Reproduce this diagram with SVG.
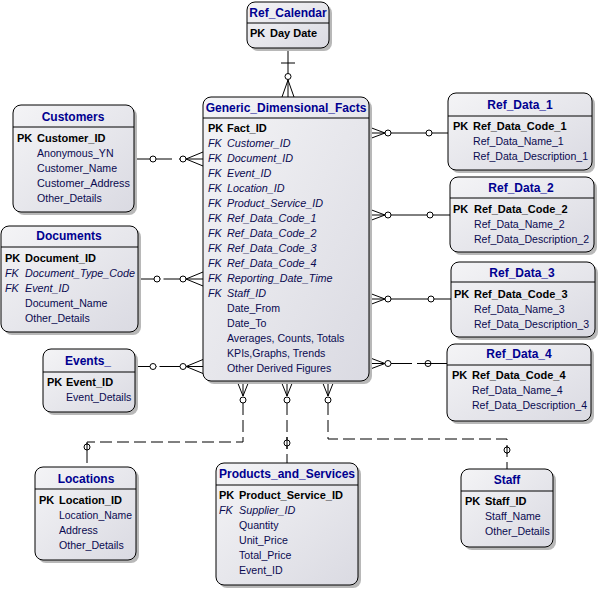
<svg xmlns="http://www.w3.org/2000/svg" width="600" height="591" viewBox="0 0 600 591">
<defs>
<linearGradient id="g" x1="0" y1="0" x2="1" y2="1">
<stop offset="0" stop-color="#f4f4f6"/>
<stop offset="1" stop-color="#dadae2"/>
</linearGradient>
<style>
.sh{fill:#b8b8b8}
.bx{fill:url(#g);stroke:#000;stroke-width:1}
.sp{stroke:#000;stroke-width:1}
.t{font-family:"Liberation Sans",Arial,sans-serif;font-size:12px;font-weight:bold;fill:#000090;text-anchor:middle}
.pk{font-family:"Liberation Sans",Arial,sans-serif;font-size:11px;font-weight:bold;fill:#000}
.fk{font-family:"Liberation Sans",Arial,sans-serif;font-size:10.8px;font-style:italic;fill:#0a0a50}
.f{font-family:"Liberation Sans",Arial,sans-serif;font-size:10.6px;fill:#0a0a50}
.ln{stroke:#000;stroke-width:1;fill:none}
.ds{stroke:#000;stroke-width:1;fill:none;stroke-dasharray:12 5}
.c{fill:#fff;stroke:#000;stroke-width:1}
</style>
</defs>
<rect width="600" height="591" fill="#fff"/>

<g id="connectors">
<!-- Ref_Calendar -->
<path class="ln" d="M288 48V80M281 63H295M288 80L282 97M288 80V97M288 80L294 97"/>
<circle class="c" cx="288" cy="76.5" r="3"/>
<!-- Customers -->
<path class="ln" d="M134 159H172M179 159H186M186 159L203 152M186 159H203M186 159L203 166"/>
<circle class="c" cx="153" cy="159" r="3"/>
<circle class="c" cx="183" cy="159" r="3"/>
<!-- Documents -->
<path class="ln" d="M138 279H160.5M163.5 279H186M186 279L203 272M186 279H203M186 279L203 286"/>
<circle class="c" cx="157" cy="279" r="3"/>
<circle class="c" cx="183" cy="279" r="3"/>
<!-- Events -->
<path class="ln" d="M135 366.5H156.5M159.5 366.5H186M186 366.5L203 359.5M186 366.5H203M186 366.5L203 373.5"/>
<circle class="c" cx="153" cy="366.5" r="3"/>
<circle class="c" cx="183" cy="366.5" r="3"/>
<!-- Ref_Data_1 -->
<path class="ln" d="M369 127L385 133M369 133H385M369 139L385 133M391 133H448"/>
<circle class="c" cx="388" cy="133" r="3"/>
<circle class="c" cx="429" cy="133" r="3"/>
<!-- Ref_Data_2 -->
<path class="ln" d="M369 209L385 215M369 215H385M369 221L385 215M391 215H450"/>
<circle class="c" cx="388" cy="215" r="3"/>
<circle class="c" cx="430" cy="215" r="3"/>
<!-- Ref_Data_3 -->
<path class="ln" d="M369 293L385 299M369 299H385M369 305L385 299M391 299H451"/>
<circle class="c" cx="388" cy="299" r="3"/>
<circle class="c" cx="431" cy="299" r="3"/>
<!-- Ref_Data_4 -->
<path class="ln" d="M369 357.5L385 363.5M369 363.5H385M369 369.5L385 363.5M391 363.5H412"/>
<circle class="c" cx="388" cy="363.5" r="3"/>
<circle class="c" cx="428" cy="363.5" r="3"/>
<path class="ln" d="M417 363.5H447"/>
<!-- Locations -->
<path class="ln" d="M237 381L243 396M243 381V396M249 381L243 396"/>
<circle class="c" cx="243" cy="400" r="3"/>
<path class="ds" d="M243 403V442H87V467"/>
<circle class="c" cx="87" cy="447" r="3"/>
<path class="ln" d="M87 443V451"/>
<!-- Products_and_Services -->
<path class="ln" d="M281 381L287 396M287 381V396M293 381L287 396"/>
<circle class="c" cx="287" cy="400" r="3"/>
<path class="ds" d="M287 403V463"/>
<circle class="c" cx="287" cy="443" r="3"/>
<path class="ln" d="M287 437V449"/>
<!-- Staff -->
<path class="ln" d="M322 381L328 396M328 381V396M334 381L328 396"/>
<circle class="c" cx="328" cy="400" r="3"/>
<path class="ds" d="M328 403V439H507V469"/>
<circle class="c" cx="507" cy="450" r="3"/>
<path class="ln" d="M507 446V454"/>
</g>

<g id="Ref_Calendar">
<rect class="sh" x="250" y="5" width="82" height="46" rx="8"/>
<rect class="bx" x="247" y="2" width="82" height="46" rx="8"/>
<line class="sp" x1="247" y1="23" x2="329" y2="23"/>
<text class="t" x="288" y="17">Ref_Calendar</text>
<text class="pk" x="250" y="37">PK</text><text class="pk" x="270" y="37">Day Date</text>
</g>

<g id="Generic_Dimensional_Facts">
<rect class="sh" x="206" y="100" width="166" height="284" rx="8"/>
<rect class="bx" x="203" y="97" width="166" height="284" rx="8"/>
<line class="sp" x1="203" y1="118" x2="369" y2="118"/>
<text class="t" x="286" y="112">Generic_Dimensional_Facts</text>
<text class="pk" x="208" y="132">PK</text><text class="pk" x="227" y="132">Fact_ID</text>
<text class="fk" x="208" y="147">FK</text><text class="fk" x="227" y="147">Customer_ID</text>
<text class="fk" x="208" y="162">FK</text><text class="fk" x="227" y="162">Document_ID</text>
<text class="fk" x="208" y="177">FK</text><text class="fk" x="227" y="177">Event_ID</text>
<text class="fk" x="208" y="192">FK</text><text class="fk" x="227" y="192">Location_ID</text>
<text class="fk" x="208" y="207">FK</text><text class="fk" x="227" y="207">Product_Service_ID</text>
<text class="fk" x="208" y="222">FK</text><text class="fk" x="227" y="222">Ref_Data_Code_1</text>
<text class="fk" x="208" y="237">FK</text><text class="fk" x="227" y="237">Ref_Data_Code_2</text>
<text class="fk" x="208" y="252">FK</text><text class="fk" x="227" y="252">Ref_Data_Code_3</text>
<text class="fk" x="208" y="267">FK</text><text class="fk" x="227" y="267">Ref_Data_Code_4</text>
<text class="fk" x="208" y="282">FK</text><text class="fk" x="227" y="282">Reporting_Date_Time</text>
<text class="fk" x="208" y="297">FK</text><text class="fk" x="227" y="297">Staff_ID</text>
<text class="f" x="227" y="312">Date_From</text>
<text class="f" x="227" y="327">Date_To</text>
<text class="f" x="227" y="342">Averages, Counts, Totals</text>
<text class="f" x="227" y="357">KPIs,Graphs, Trends</text>
<text class="f" x="227" y="372">Other Derived Figures</text>
</g>

<g id="Customers">
<rect class="sh" x="16" y="108" width="121" height="107" rx="8"/>
<rect class="bx" x="13" y="105" width="121" height="107" rx="8"/>
<line class="sp" x1="13" y1="127" x2="134" y2="127"/>
<text class="t" x="73" y="121">Customers</text>
<text class="pk" x="17" y="142">PK</text><text class="pk" x="37" y="142">Customer_ID</text>
<text class="f" x="37" y="157">Anonymous_YN</text>
<text class="f" x="37" y="172">Customer_Name</text>
<text class="f" x="37" y="187" textLength="93" lengthAdjust="spacingAndGlyphs">Customer_Address</text>
<text class="f" x="37" y="202">Other_Details</text>
</g>

<g id="Documents">
<rect class="sh" x="4" y="229" width="137" height="106" rx="8"/>
<rect class="bx" x="1" y="226" width="137" height="106" rx="8"/>
<line class="sp" x1="1" y1="247" x2="138" y2="247"/>
<text class="t" x="69" y="240">Documents</text>
<text class="pk" x="5" y="262">PK</text><text class="pk" x="25" y="262">Document_ID</text>
<text class="fk" x="5" y="277">FK</text><text class="fk" x="25" y="277" textLength="110" lengthAdjust="spacingAndGlyphs">Document_Type_Code</text>
<text class="fk" x="5" y="292">FK</text><text class="fk" x="25" y="292">Event_ID</text>
<text class="f" x="25" y="307">Document_Name</text>
<text class="f" x="25" y="322">Other_Details</text>
</g>

<g id="Events_">
<rect class="sh" x="46" y="352" width="92" height="63" rx="8"/>
<rect class="bx" x="43" y="349" width="92" height="63" rx="8"/>
<line class="sp" x1="43" y1="372" x2="135" y2="372"/>
<text class="t" x="88" y="365">Events_</text>
<text class="pk" x="47" y="386">PK</text><text class="pk" x="66" y="386">Event_ID</text>
<text class="f" x="66" y="401">Event_Details</text>
</g>

<g id="Locations">
<rect class="sh" x="38" y="470" width="101" height="93" rx="8"/>
<rect class="bx" x="35" y="467" width="101" height="93" rx="8"/>
<line class="sp" x1="35" y1="489" x2="136" y2="489"/>
<text class="t" x="86" y="483">Locations</text>
<text class="pk" x="39" y="504">PK</text><text class="pk" x="59" y="504">Location_ID</text>
<text class="f" x="59" y="519" textLength="73" lengthAdjust="spacingAndGlyphs">Location_Name</text>
<text class="f" x="59" y="534">Address</text>
<text class="f" x="59" y="549">Other_Details</text>
</g>

<g id="Products_and_Services">
<rect class="sh" x="219" y="466" width="142" height="122" rx="8"/>
<rect class="bx" x="216" y="463" width="142" height="122" rx="8"/>
<line class="sp" x1="216" y1="485" x2="358" y2="485"/>
<text class="t" x="287" y="478">Products_and_Services</text>
<text class="pk" x="219" y="499">PK</text><text class="pk" x="239" y="499">Product_Service_ID</text>
<text class="fk" x="219" y="514">FK</text><text class="fk" x="239" y="514">Supplier_ID</text>
<text class="f" x="239" y="529">Quantity</text>
<text class="f" x="239" y="544">Unit_Price</text>
<text class="f" x="239" y="559">Total_Price</text>
<text class="f" x="239" y="574">Event_ID</text>
</g>

<g id="Staff">
<rect class="sh" x="464" y="472" width="92" height="78" rx="8"/>
<rect class="bx" x="461" y="469" width="92" height="78" rx="8"/>
<line class="sp" x1="461" y1="491" x2="553" y2="491"/>
<text class="t" x="507" y="484">Staff</text>
<text class="pk" x="465" y="505">PK</text><text class="pk" x="485" y="505">Staff_ID</text>
<text class="f" x="485" y="520">Staff_Name</text>
<text class="f" x="485" y="535">Other_Details</text>
</g>

<g id="Ref_Data_1">
<rect class="sh" x="451" y="96" width="144" height="77" rx="8"/>
<rect class="bx" x="448" y="93" width="144" height="77" rx="8"/>
<line class="sp" x1="448" y1="116" x2="592" y2="116"/>
<text class="t" x="520" y="109">Ref_Data_1</text>
<text class="pk" x="453" y="130">PK</text><text class="pk" x="473" y="130">Ref_Data_Code_1</text>
<text class="f" x="473" y="145">Ref_Data_Name_1</text>
<text class="f" x="473" y="160" textLength="115" lengthAdjust="spacingAndGlyphs">Ref_Data_Description_1</text>
</g>

<g id="Ref_Data_2">
<rect class="sh" x="453" y="180" width="144" height="75" rx="8"/>
<rect class="bx" x="450" y="177" width="144" height="75" rx="8"/>
<line class="sp" x1="450" y1="198" x2="594" y2="198"/>
<text class="t" x="521" y="192">Ref_Data_2</text>
<text class="pk" x="453" y="213">PK</text><text class="pk" x="474" y="213">Ref_Data_Code_2</text>
<text class="f" x="474" y="228">Ref_Data_Name_2</text>
<text class="f" x="474" y="243" textLength="115" lengthAdjust="spacingAndGlyphs">Ref_Data_Description_2</text>
</g>

<g id="Ref_Data_3">
<rect class="sh" x="454" y="265" width="144" height="75" rx="8"/>
<rect class="bx" x="451" y="262" width="144" height="75" rx="8"/>
<line class="sp" x1="451" y1="282" x2="595" y2="282"/>
<text class="t" x="522" y="277">Ref_Data_3</text>
<text class="pk" x="454" y="298">PK</text><text class="pk" x="474" y="298">Ref_Data_Code_3</text>
<text class="f" x="474" y="313">Ref_Data_Name_3</text>
<text class="f" x="474" y="328" textLength="115" lengthAdjust="spacingAndGlyphs">Ref_Data_Description_3</text>
</g>

<g id="Ref_Data_4">
<rect class="sh" x="450" y="347" width="144" height="77" rx="8"/>
<rect class="bx" x="447" y="344" width="144" height="77" rx="8"/>
<line class="sp" x1="447" y1="365" x2="591" y2="365"/>
<text class="t" x="519" y="358">Ref_Data_4</text>
<text class="pk" x="452" y="379">PK</text><text class="pk" x="472" y="379">Ref_Data_Code_4</text>
<text class="f" x="472" y="394">Ref_Data_Name_4</text>
<text class="f" x="472" y="409" textLength="115" lengthAdjust="spacingAndGlyphs">Ref_Data_Description_4</text>
</g>
</svg>
